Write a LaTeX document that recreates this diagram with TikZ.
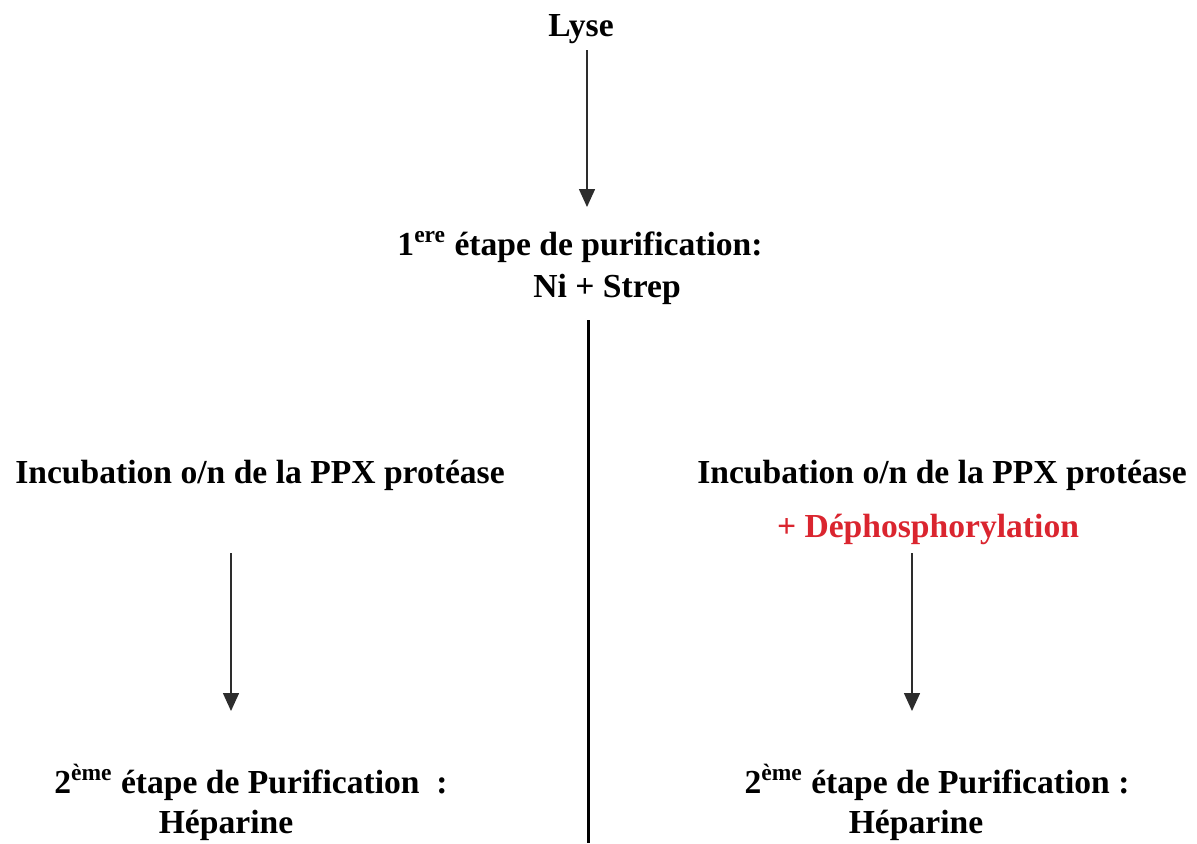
\documentclass[tikz,border=0pt]{standalone}
\usepackage{fontspec}
\setmainfont{Liberation Serif}
\usetikzlibrary{arrows.meta}
\definecolor{redtxt}{RGB}{218,37,47}
\definecolor{arrowgray}{RGB}{45,45,45}
\tikzset{
  lbl/.style={anchor=base, inner sep=0pt, font=\fontsize{16.8}{19}\selectfont\bfseries},
  arr/.style={draw=arrowgray, line width=0.75pt, -{Triangle[length=9pt,width=8pt]}},
  divider/.style={draw=black, line width=1.5pt}
}
\begin{document}
\begin{tikzpicture}[x=0.5pt,y=-0.5pt]
\useasboundingbox (0,0) rectangle (1197,843);
% texts
\node[lbl] (lyse) at (581,36) {Lyse};
\node[lbl] (p1a) at (580,255) {1\textsuperscript{ere} étape de purification:};
\node[lbl] (p1b) at (607,297) {Ni + Strep};
\node[lbl] (incL) at (260,483) {Incubation o/n de la PPX protéase};
\node[lbl] (incR) at (942,483) {Incubation o/n de la PPX protéase};
\node[lbl, text=redtxt] (deph) at (928,537) {+ Déphosphorylation};
\node[lbl] (p2La) at (251,793) {2\textsuperscript{ème} étape de Purification\ \ :};
\node[lbl] (p2Lb) at (226,833) {Héparine};
\node[lbl] (p2Ra) at (937,793) {2\textsuperscript{ème} étape de Purification :};
\node[lbl] (p2Rb) at (916,833) {Héparine};
% connector end points
\coordinate (a1s) at (587,50);
\coordinate (a1e) at (587,207);
\coordinate (aLs) at (231,553);
\coordinate (aLe) at (231,711);
\coordinate (aRs) at (912,553);
\coordinate (aRe) at (912,711);
\coordinate (vs) at (588,320);
\coordinate (ve) at (588,843);
% connectors
\draw[arr] (a1s) -- (a1e);
\draw[arr] (aLs) -- (aLe);
\draw[arr] (aRs) -- (aRe);
\draw[divider] (vs) -- (ve);
\end{tikzpicture}
\end{document}
